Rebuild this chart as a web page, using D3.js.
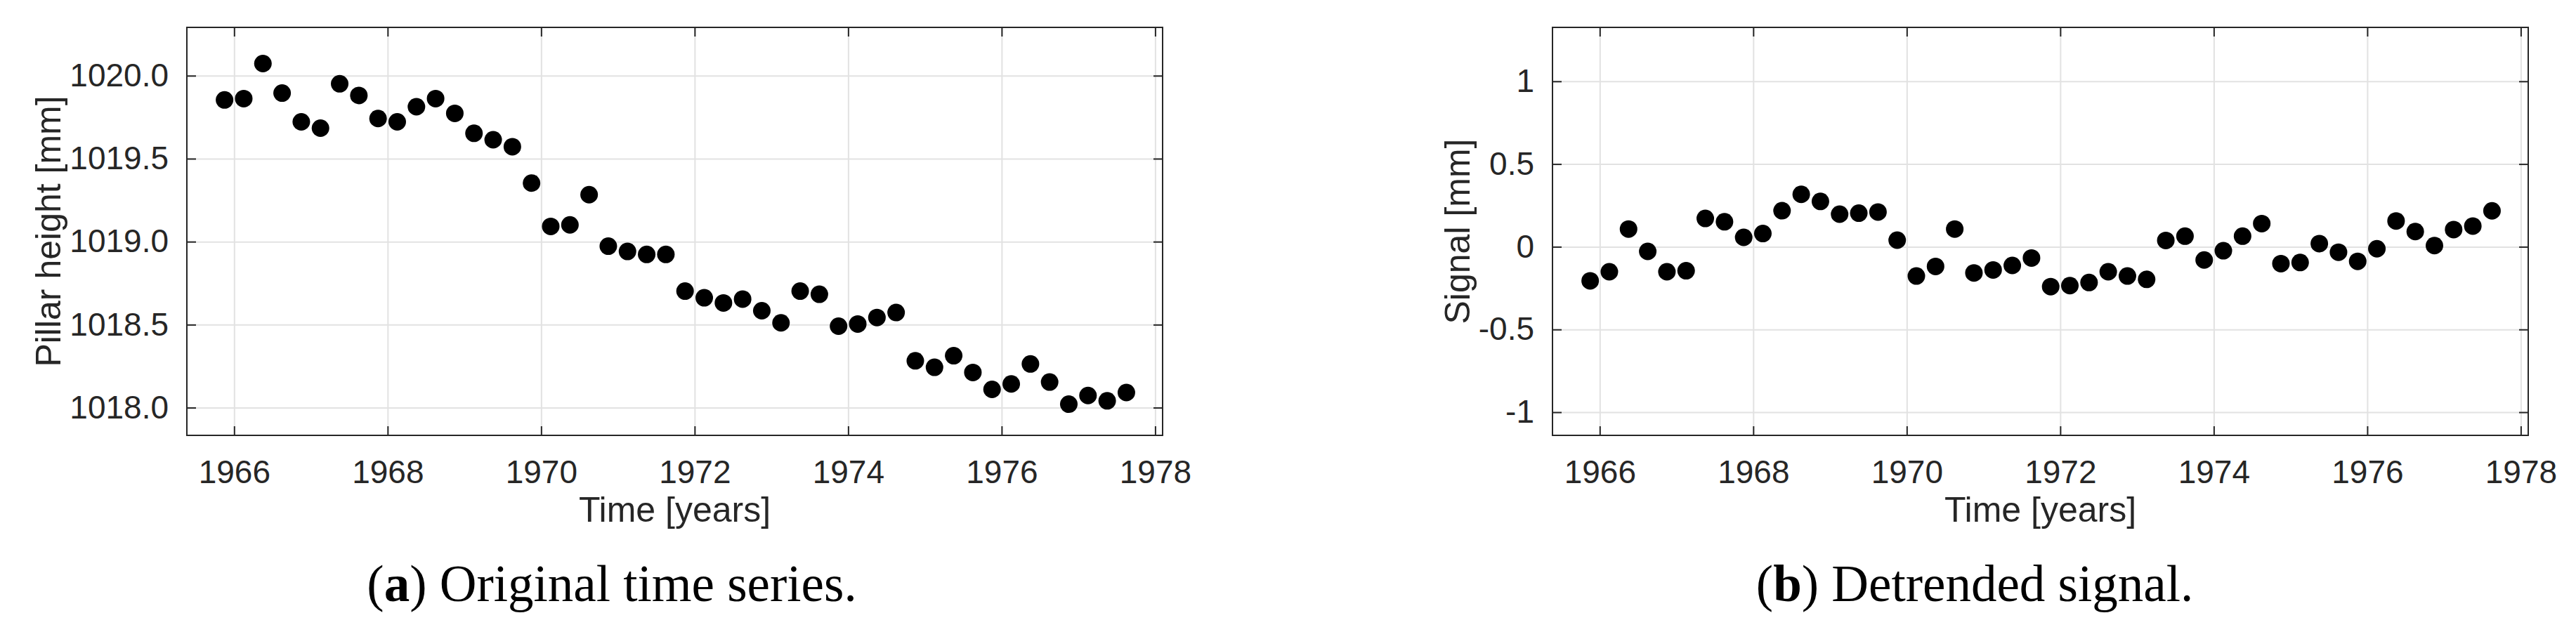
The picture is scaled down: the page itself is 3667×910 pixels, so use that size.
<!DOCTYPE html>
<html>
<head>
<meta charset="utf-8">
<script src="https://cdn.jsdelivr.net/npm/d3@7"></script>
<style>
  body { margin: 0; background: #fff; }
  svg { display: block; }
</style>
</head>
<body>
<svg id="vis-svg"></svg>
<script>
// quarterly epochs (decimal years), shared by both panels
var times = [
  1965.875, 1966.125, 1966.375, 1966.625, 1966.875, 1967.125, 1967.375, 1967.625,
  1967.875, 1968.125, 1968.375, 1968.625, 1968.875, 1969.125, 1969.375, 1969.625,
  1969.875, 1970.125, 1970.375, 1970.625, 1970.875, 1971.125, 1971.375, 1971.625,
  1971.875, 1972.125, 1972.375, 1972.625, 1972.875, 1973.125, 1973.375, 1973.625,
  1973.875, 1974.125, 1974.375, 1974.625, 1974.875, 1975.125, 1975.375, 1975.625,
  1975.875, 1976.125, 1976.375, 1976.625, 1976.875, 1977.125, 1977.375, 1977.625
];

// (a) pillar height [mm]
var pillarHeight = [
  1019.854, 1019.862, 1020.073, 1019.895, 1019.722, 1019.684, 1019.951, 1019.881,
  1019.742, 1019.722, 1019.813, 1019.862, 1019.773, 1019.653, 1019.614, 1019.572,
  1019.353, 1019.092, 1019.101, 1019.283, 1018.973, 1018.941, 1018.923, 1018.923,
  1018.702, 1018.662, 1018.631, 1018.654, 1018.584, 1018.511, 1018.702, 1018.683,
  1018.491, 1018.504, 1018.543, 1018.573, 1018.282, 1018.243, 1018.313, 1018.212,
  1018.110, 1018.143, 1018.263, 1018.154, 1018.021, 1018.073, 1018.041, 1018.091
];

// (b) detrended signal [mm]
var signal = [
  -0.206, -0.151, 0.107, -0.028, -0.151, -0.145, 0.171, 0.151,
  0.057, 0.080, 0.218, 0.317, 0.274, 0.197, 0.203, 0.210,
  0.040, -0.177, -0.119, 0.107, -0.158, -0.140, -0.113, -0.068,
  -0.241, -0.235, -0.216, -0.151, -0.177, -0.197, 0.038, 0.064,
  -0.080, -0.024, 0.064, 0.140, -0.102, -0.095, 0.019, -0.033,
  -0.088, -0.012, 0.156, 0.092, 0.007, 0.104, 0.125, 0.217
];

var xTicks = [1966, 1968, 1970, 1972, 1974, 1976, 1978];
var yTicksA = [1018.0, 1018.5, 1019.0, 1019.5, 1020.0];
var yTickLabelsA = ["1018.0", "1018.5", "1019.0", "1019.5", "1020.0"];
var yTicksB = [-1, -0.5, 0, 0.5, 1];
var yTickLabelsB = ["-1", "-0.5", "0", "0.5", "1"];

var width = 3667;
var height = 910;
var axisColor = "#262626";
var gridColor = "#e2e2e2";
var sans = "'Liberation Sans', Arial, Helvetica, sans-serif";
var serif = "'Liberation Serif', 'Times New Roman', serif";

var svg = d3.select('#vis-svg')
  .attr('width', width)
  .attr('height', height);

svg.append('rect')
  .attr('width', width)
  .attr('height', height)
  .attr('fill', '#fff');

/**
 * Draws one MATLAB-style scatter panel with caption
 */
function drawPanel(p) {
  var g = svg.append('g');
  var top = 39, bottom = 620;

  var xScale = d3.scaleLinear()
    .domain([1965.384, 1978.097])
    .range([p.left, p.right]);

  var yScale = d3.scaleLinear()
    .domain(p.yDomain)
    .range([bottom, top]);

  // grid
  g.append('g')
    .attr('transform', `translate(0,${bottom})`)
    .call(d3.axisBottom(xScale).tickValues(xTicks).tickSize(-(bottom - top)).tickFormat(''))
    .call(function(a){ a.select('.domain').remove(); })
    .selectAll('line')
    .attr('stroke', gridColor)
    .attr('stroke-width', 2);

  g.append('g')
    .attr('transform', `translate(${p.left},0)`)
    .call(d3.axisLeft(yScale).tickValues(p.yTicks).tickSize(-(p.right - p.left)).tickFormat(''))
    .call(function(a){ a.select('.domain').remove(); })
    .selectAll('line')
    .attr('stroke', gridColor)
    .attr('stroke-width', 2);

  // ticks pointing inward on all four sides
  var bottomAxis = g.append('g')
    .attr('transform', `translate(0,${bottom})`)
    .call(d3.axisBottom(xScale).tickValues(xTicks).tickSizeInner(-13).tickSizeOuter(0)
      .tickPadding(35).tickFormat(d3.format('d')));

  g.append('g')
    .attr('transform', `translate(0,${top})`)
    .call(d3.axisTop(xScale).tickValues(xTicks).tickSizeInner(-13).tickSizeOuter(0).tickFormat(''));

  var leftAxis = g.append('g')
    .attr('transform', `translate(${p.left},0)`)
    .call(d3.axisLeft(yScale).tickValues(p.yTicks).tickSizeInner(-13).tickSizeOuter(0)
      .tickPadding(26).tickFormat(function(d, i){ return p.yTickLabels[i]; }));

  g.append('g')
    .attr('transform', `translate(${p.right},0)`)
    .call(d3.axisRight(yScale).tickValues(p.yTicks).tickSizeInner(-13).tickSizeOuter(0).tickFormat(''));

  g.selectAll('.domain').remove();
  g.selectAll('.tick line')
    .filter(function(){ return d3.select(this).attr('stroke') !== gridColor; })
    .attr('stroke', axisColor)
    .attr('stroke-width', 2);

  [bottomAxis, leftAxis].forEach(function(a){
    a.selectAll('text')
      .attr('fill', axisColor)
      .style('font-family', sans)
      .style('font-size', '46px');
  });

  // box
  g.append('rect')
    .attr('x', p.left)
    .attr('y', top)
    .attr('width', p.right - p.left)
    .attr('height', bottom - top)
    .attr('fill', 'none')
    .attr('stroke', axisColor)
    .attr('stroke-width', 2);

  // markers
  g.append('g').selectAll('circle')
    .data(p.values)
    .enter()
    .append('circle')
    .attr('cx', function(d, i){ return xScale(times[i]); })
    .attr('cy', function(d){ return yScale(d); })
    .attr('r', 12.5)
    .attr('fill', '#000');

  // axis labels
  g.append('text')
    .attr('x', (p.left + p.right) / 2)
    .attr('y', 743)
    .attr('text-anchor', 'middle')
    .attr('fill', axisColor)
    .style('font-family', sans)
    .style('font-size', '50px')
    .text('Time [years]');

  g.append('text')
    .attr('transform', `translate(${p.left + p.ylabelOffset},${(top + bottom) / 2}) rotate(-90)`)
    .attr('text-anchor', 'middle')
    .attr('fill', axisColor)
    .style('font-family', sans)
    .style('font-size', '50px')
    .text(p.ylabel);

  // caption
  var cap = g.append('text')
    .attr('x', p.captionX)
    .attr('y', 856)
    .attr('text-anchor', 'middle')
    .attr('fill', '#000')
    .style('font-family', serif)
    .style('font-size', '73px');
  cap.append('tspan').text('(');
  cap.append('tspan').style('font-weight', 'bold').text(p.letter);
  cap.append('tspan').text(') ' + p.caption);
}

drawPanel({
  left: 266, right: 1655,
  yDomain: [1017.833, 1020.291],
  yTicks: yTicksA, yTickLabels: yTickLabelsA,
  values: pillarHeight,
  ylabel: 'Pillar height [mm]', ylabelOffset: -180,
  letter: 'a', caption: 'Original time series.', captionX: 871
});

drawPanel({
  left: 2210, right: 3599,
  yDomain: [-1.14, 1.326],
  yTicks: yTicksB, yTickLabels: yTickLabelsB,
  values: signal,
  ylabel: 'Signal [mm]', ylabelOffset: -118,
  letter: 'b', caption: 'Detrended signal.', captionX: 2811
});
</script>
</body>
</html>
